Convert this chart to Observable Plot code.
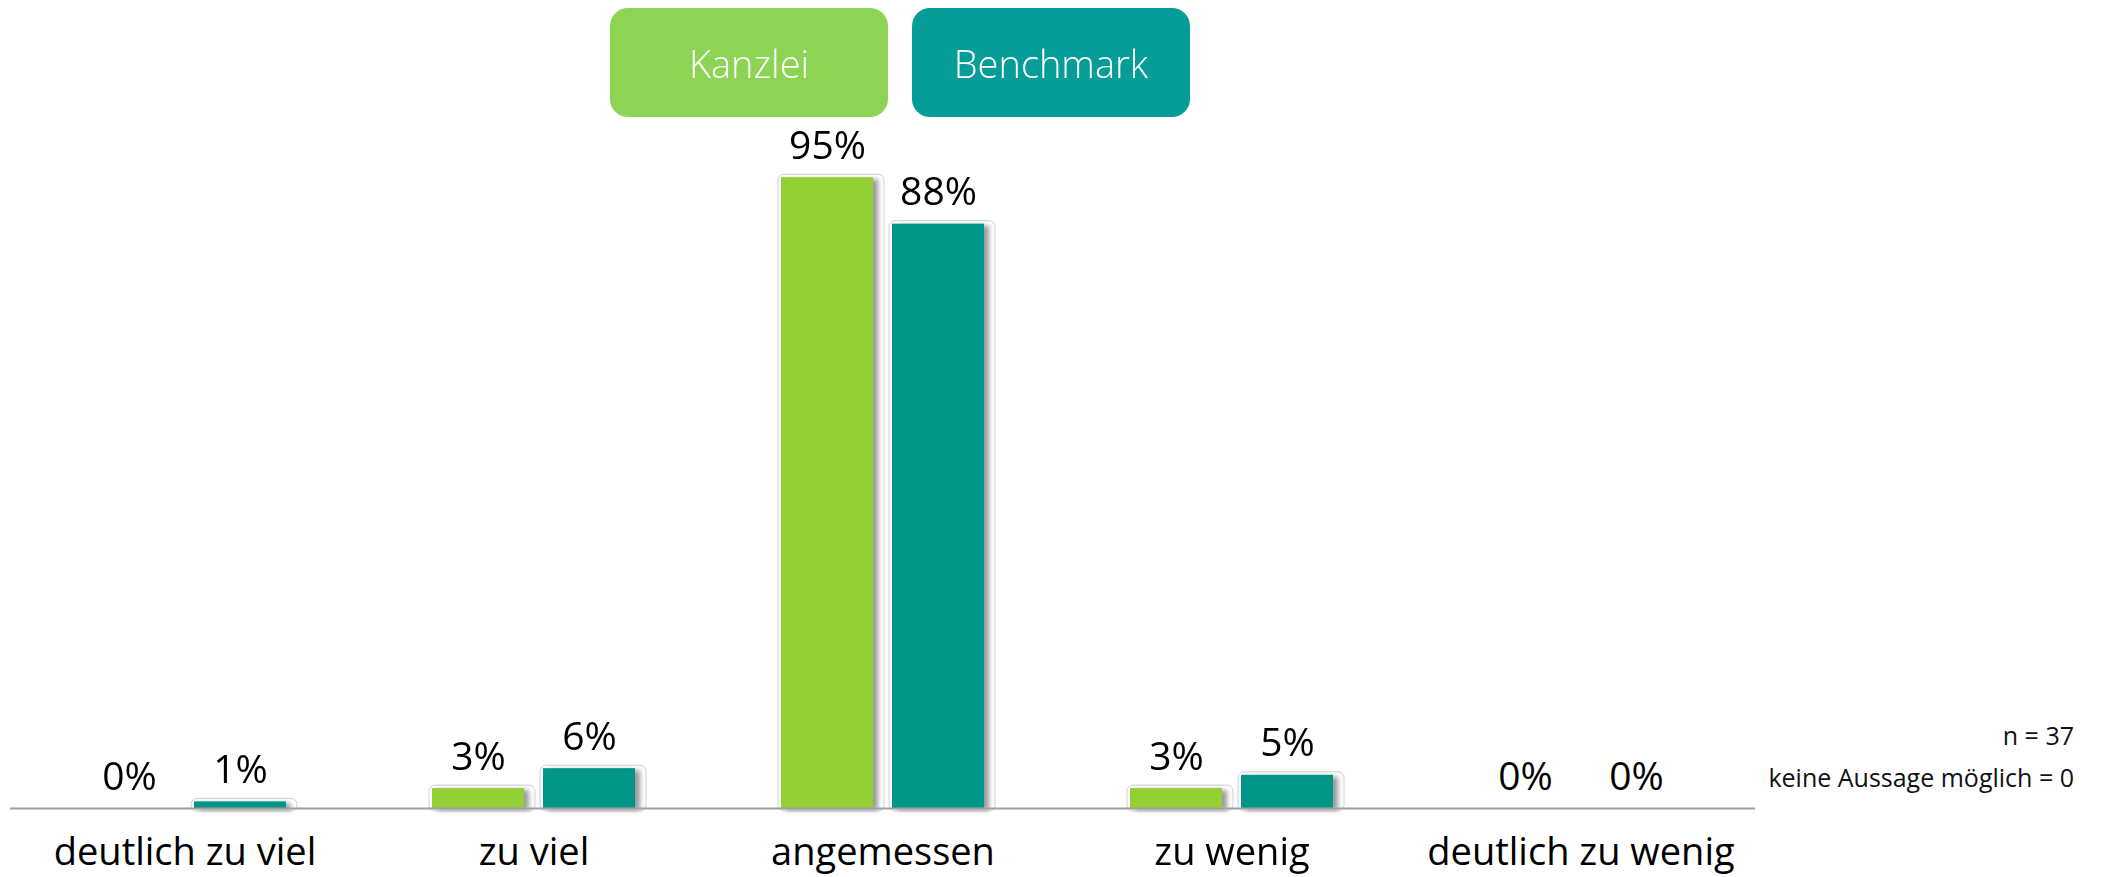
<!DOCTYPE html>
<html>
<head>
<meta charset="utf-8">
<script src="https://cdn.jsdelivr.net/npm/d3@7"></script>
<script src="https://cdn.jsdelivr.net/npm/@observablehq/plot@0.6"></script>
<style>
  html, body { margin: 0; padding: 0; background: #fff; }
  #wrap { position: relative; width: 2102px; height: 877px; font-family: "Open Sans", "Noto Sans", sans-serif; overflow: hidden; }
  #legend { position: relative; width: 2102px; height: 100px; z-index: 2; }
  .leg { position: absolute; top: 8px; width: 278px; height: 109px; border-radius: 18px; color: #fff;
         font-size: 38px; font-weight: 300; display: flex; align-items: center; justify-content: center; }
  .note { position: absolute; right: 28px; font-size: 25px; color: #111; white-space: nowrap; line-height: 30px; z-index: 2; }
  svg { display: block; overflow: visible; }
</style>
</head>
<body>
<div id="wrap">
  <div id="legend"></div>
  <div id="chart"></div>
</div>
<script>
const categories = ["deutlich zu viel", "zu viel", "angemessen", "zu wenig", "deutlich zu wenig"];
const series = ["Kanzlei", "Benchmark"];
const kanzleiValues = [0, 3, 95, 3, 0];
const benchmarkValues = [1, 6, 88, 5, 0];
const barColors = ["#92D036", "#009688"];
const legendColors = ["#8DD354", "#069C98"];
const notes = ["n = 37", "keine Aussage möglich = 0"];

const data = categories.flatMap((c, i) => [
  {cat: c, s: series[0], v: kanzleiValues[i]},
  {cat: c, s: series[1], v: benchmarkValues[i]}
]);
const nonZero = data.filter(d => d.v > 0);

// legend
const legend = document.getElementById("legend");
const legendLeft = [610, 912];
series.forEach((s, i) => {
  const el = document.createElement("div");
  el.className = "leg";
  el.style.left = legendLeft[i] + "px";
  el.style.background = legendColors[i];
  el.textContent = s;
  legend.appendChild(el);
});

// notes
const wrap = document.getElementById("wrap");
const noteTops = [720, 762];
notes.forEach((t, i) => {
  const el = document.createElement("div");
  el.className = "note";
  el.style.top = noteTops[i] + "px";
  el.textContent = t;
  wrap.appendChild(el);
});

const chart = Plot.plot({
  width: 2102,
  height: 777,
  marginLeft: 9,
  marginRight: 347,
  marginTop: 44,
  marginBottom: 69,
  style: {fontFamily: "'Open Sans', 'Noto Sans', sans-serif", color: "#000"},
  facet: {marginTop: 0, marginBottom: 0, marginLeft: 0, marginRight: 0},
  fx: {domain: categories, padding: 0, label: null, axis: null},
  x: {domain: series, axis: null, paddingInner: 0.17, paddingOuter: 0.648},
  y: {domain: [0, 100], axis: null},
  color: {domain: series, range: barColors},
  marks: [
    Plot.barY(nonZero, {fx: "cat", x: "s", y: "v", fill: "#fff", stroke: "#d0d0d0", strokeWidth: 1,
      insetLeft: -3, insetRight: -11, insetTop: -3, insetBottom: -3, rx: 6}),
    Plot.barY(nonZero, {fx: "cat", x: "s", y: "v", fill: "#555", fillOpacity: 0.6, dx: 5, dy: 2}),
    Plot.barY(data, {fx: "cat", x: "s", y: "v", fill: "s"}),
    Plot.ruleY([0], {stroke: "#a0a0a0", strokeWidth: 2}),
    Plot.text(data, {fx: "cat", x: "s", y: "v", text: d => d.v + "%", lineAnchor: "bottom", dy: -19,
      fontSize: 39, fill: "#000"}),
    Plot.axisFx({anchor: "bottom", tickSize: 0, tickPadding: 30, fontSize: 38, label: null, fill: "#000"})
  ]
});

// soft shadow via blur filter on the shadow bar layer
const svg = d3.select(chart);
svg.insert("defs", ":first-child").html('<filter id="shadowBlur" x="-20%" y="-20%" width="140%" height="140%"><feGaussianBlur stdDeviation="2.5"/></filter>');
const barGroups = svg.selectAll('g[aria-label="bar"]').nodes();
if (barGroups.length >= 2) d3.select(barGroups[1]).attr("filter", "url(#shadowBlur)");

document.getElementById("chart").appendChild(chart);
</script>
</body>
</html>
